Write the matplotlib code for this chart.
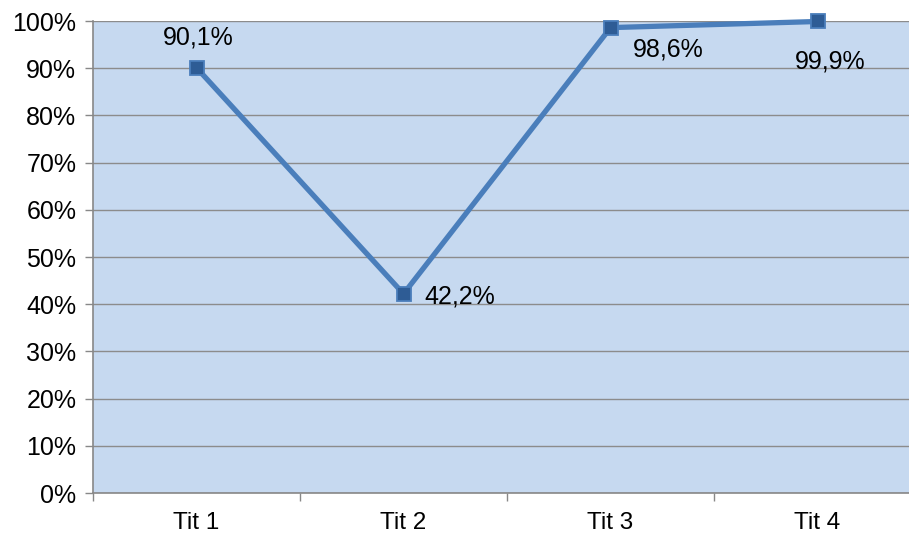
import matplotlib.pyplot as plt
from matplotlib.ticker import FixedLocator, NullFormatter

plt.rcParams['font.family'] = ['Liberation Sans', 'DejaVu Sans']

categories = ['Tit 1', 'Tit 2', 'Tit 3', 'Tit 4']
values = [90.1, 42.2, 98.6, 99.9]
labels = ['90,1%', '42,2%', '98,6%', '99,9%']
# label offsets in points (dx, dy) and alignment
offsets = [(1, 22, 'center'), (15, -2, 'left'), (16, -16, 'left'), (9, -29, 'center')]

fig = plt.figure(figsize=(9.09, 5.36), dpi=100)
ax = fig.add_axes([0.1023, 0.0802, 0.911, 0.8806])
ax.set_facecolor('#C6D9F0')

x = list(range(len(categories)))
ax.plot(x, values, color='#4A7EBB', lw=3.8, marker='s', markersize=10,
        markerfacecolor='#2E5C95', markeredgecolor='#4A7EBB', markeredgewidth=1.3,
        zorder=3, clip_on=False)

for xi, v, lab, (dx, dy, ha) in zip(x, values, labels, offsets):
    ax.annotate(lab, (xi, v), xytext=(dx, dy), textcoords='offset points',
                ha=ha, va='center', fontsize=18, color='black')

ax.set_xlim(-0.5, len(categories) - 0.5)
ax.set_ylim(0, 100)
ax.set_yticks(range(0, 101, 10))
ax.set_yticklabels([f'{t}%' for t in range(0, 101, 10)], fontsize=18)
ax.set_xticks(x)
ax.set_xticklabels(categories, fontsize=17.5)
ax.tick_params(axis='x', which='major', length=0, pad=14)
ax.xaxis.set_minor_locator(FixedLocator([i - 0.5 for i in range(len(categories) + 1)]))
ax.xaxis.set_minor_formatter(NullFormatter())
ax.tick_params(axis='x', which='minor', length=6, color='#888888', width=1)
ax.tick_params(axis='y', length=6, color='#888888', width=1, pad=6)

ax.grid(axis='y', color='#8C8C8C', lw=1)
ax.set_axisbelow(True)
for s in ['top', 'right']:
    ax.spines[s].set_visible(False)
for s in ['left', 'bottom']:
    ax.spines[s].set_color('#888888')
    ax.spines[s].set_linewidth(1.2)

fig.savefig('out.png', dpi=100)
